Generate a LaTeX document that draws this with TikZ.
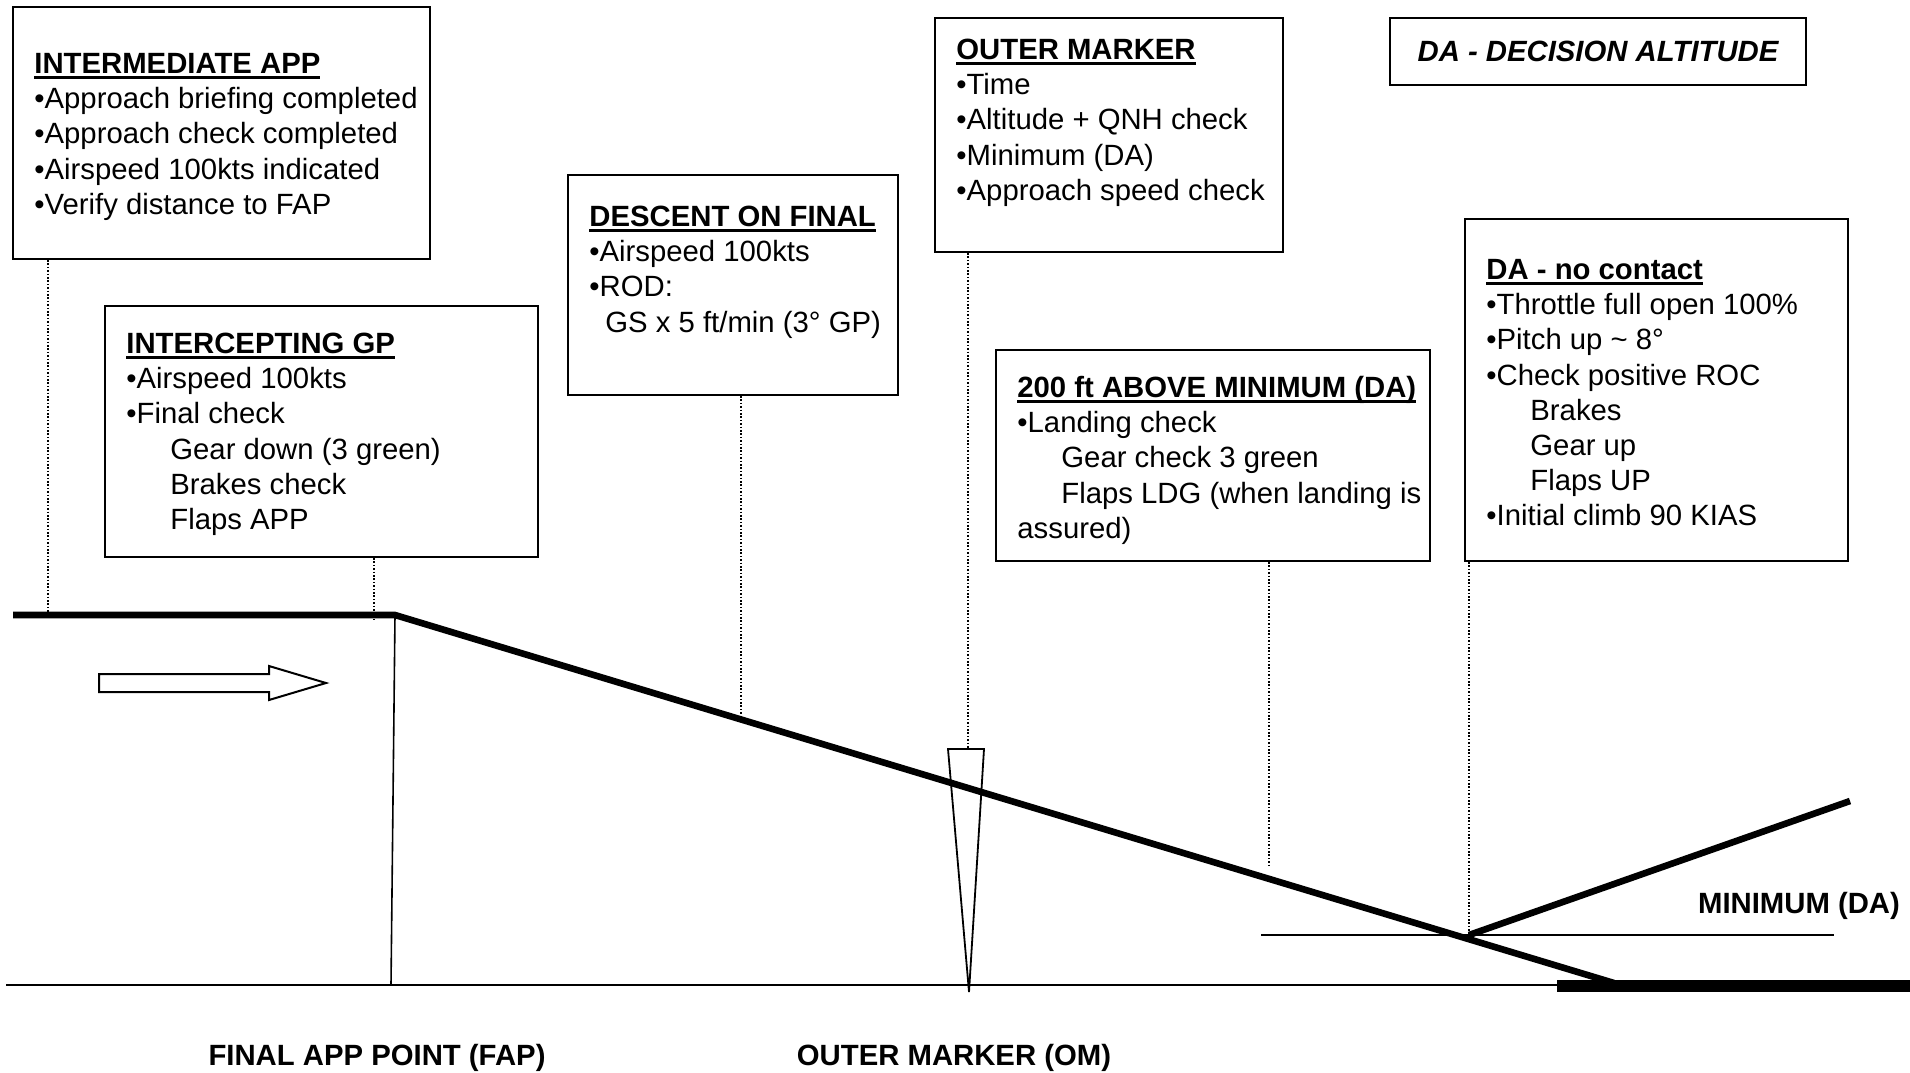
\documentclass[tikz,border=0pt]{standalone}
\usepackage{fontspec}
\setmainfont{Liberation Sans}
\usetikzlibrary{fit}

% underlined bold heading of a checklist panel
\newcommand{\panelhead}[1]{\leavevmode\setbox0\hbox{\bfseries #1}\rlap{\rule[-2.6pt]{\wd0}{1.2pt}}\box0}
\newcommand{\indentline}{\hspace*{22pt}}

\begin{document}
\begin{tikzpicture}[
    x=0.5pt, y=-0.5pt,
    panel/.style={draw, line width=1pt, inner sep=0pt},
    notes/.style={anchor=base west, align=left, inner sep=0pt, font=\fontsize{14.65pt}{17.6pt}\selectfont},
    axislabel/.style={inner sep=0pt, font=\fontsize{14.65pt}{17.6pt}\selectfont\bfseries},
    leader/.style={line width=0.65pt, dash pattern=on 0.8pt off 0.9pt},
    track/.style={line width=3.3pt},
    fine/.style={line width=0.8pt}
]
\useasboundingbox (0,0) rectangle (1910,1072);

% -------- Panels --------
% text nodes sit on the baseline of their last line
\node[panel, fit={(13,7) (430,259)}] (intapp) {};
\node[notes] (intapp-txt) at (34,214.3) {
\panelhead{INTERMEDIATE APP}\\
•Approach briefing completed\\
•Approach check completed\\
•Airspeed 100kts indicated\\
•Verify distance to FAP
};

\node[panel, fit={(105,306) (538,557)}] (intgp) {};
\node[notes] (intgp-txt) at (126,529.5) {
\panelhead{INTERCEPTING GP}\\
•Airspeed 100kts\\
•Final check\\
\indentline Gear down (3 green)\\
\indentline Brakes check\\
\indentline Flaps APP
};

\node[panel, fit={(568,175) (898,395)}] (descent) {};
\node[notes] (descent-txt) at (589,332.1) {
\panelhead{DESCENT ON FINAL}\\
•Airspeed 100kts\\
•ROD:\\
\hspace*{8pt}GS x 5 ft/min (3° GP)
};

\node[panel, fit={(935,18) (1283,252)}] (outer) {};
\node[notes] (outer-txt) at (956,200.3) {
\panelhead{OUTER MARKER}\\
•Time\\
•Altitude + QNH check\\
•Minimum (DA)\\
•Approach speed check
};

\node[panel, minimum width=208pt, minimum height=33.5pt,
      font=\fontsize{14.65pt}{17.6pt}\selectfont\bfseries\itshape] (decalt) at (1598,51.5)
      {DA - DECISION ALTITUDE};

\node[panel, fit={(996,350) (1430,561)}] (above) {};
\node[notes] (above-txt) at (1017,538.3) {
\panelhead{200 ft ABOVE MINIMUM (DA)}\\
•Landing check\\
\indentline Gear check 3 green\\
\indentline Flaps LDG (when landing is\\
assured)
};

\node[panel, fit={(1465,219) (1848,561)}] (nocontact) {};
\node[notes] (nocontact-txt) at (1486,525.9) {
\panelhead{DA - no contact}\\
•Throttle full open 100\%\\
•Pitch up \textasciitilde{} 8°\\
•Check positive ROC\\
\indentline Brakes\\
\indentline Gear up\\
\indentline Flaps UP\\
•Initial climb 90 KIAS
};

% -------- Profile --------
\coordinate (start) at (13,615);
\coordinate (fap) at (395,615);
\coordinate (fapgnd) at (391,985);
\coordinate (td) at (1614,983);
\coordinate (om) at (968,749);
\coordinate (omgnd) at (969,992);
\coordinate (daleft) at (1261,935);
\coordinate (daright) at (1834,935);
\coordinate (dapt) at (1469,935);
\coordinate (climb) at (1850,801);

\draw[line width=1.3pt] (6,985) -- (1560,985);
\draw[line width=6pt] (1557,986) -- (1910,986);
\draw[fine] (fap) -- (fapgnd);
\draw[line width=0.9pt] (948,749) -- (984,749) -- (omgnd) -- cycle;
\draw[line width=1.3pt] (daleft) -- (daright);
\draw[track] (start) -- (fap) -- (td);
\draw[track] (dapt) -- (climb);

% direction of flight
\draw[line width=1pt] (99,674) -- (269,674) -- (269,666) -- (326,683)
    -- (269,700) -- (269,692) -- (99,692) -- cycle;

% -------- Leaders --------
\coordinate (l1) at (48,612);
\coordinate (l2) at (374,620);
\coordinate (l3) at (741,719);
\coordinate (l6) at (1269,866);
\draw[leader] (intapp.south -| l1) -- (l1);
\draw[leader] (intgp.south -| l2) -- (l2);
\draw[leader] (descent.south -| l3) -- (l3);
\draw[leader] (outer.south -| om) -- (om);
\draw[leader] (above.south -| l6) -- (l6);
\draw[leader] (nocontact.south -| dapt) -- (dapt);

% -------- Labels --------
\node[axislabel] (minlabel) at (1799,906) {MINIMUM (DA)};
\node[axislabel] (faplabel) at (377,1058) {FINAL APP POINT (FAP)};
\node[axislabel] (omlabel) at (954,1058) {OUTER MARKER (OM)};

\end{tikzpicture}
\end{document}
